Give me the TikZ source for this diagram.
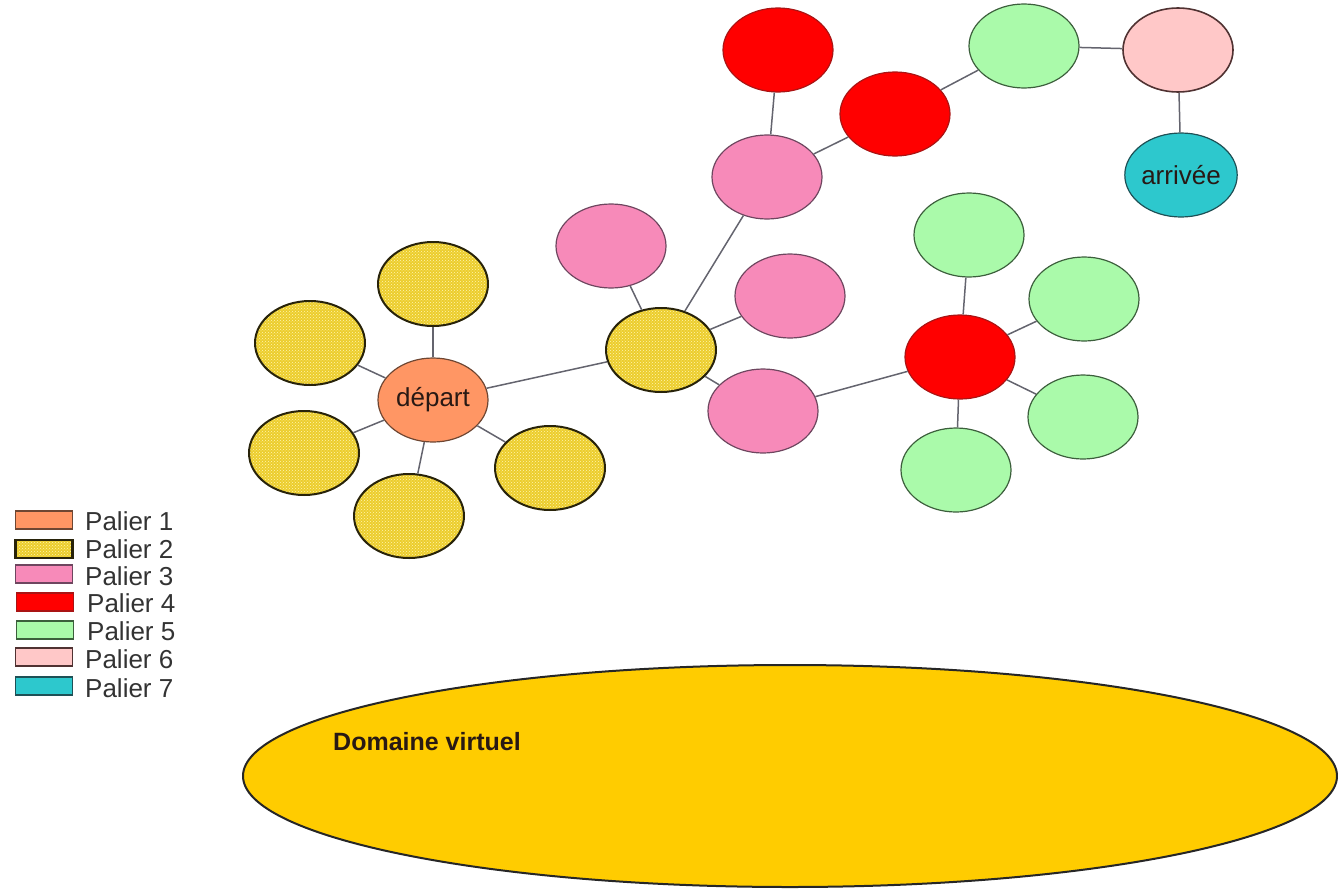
\documentclass[tikz,border=0pt]{standalone}
\usepackage{fontspec}
\setmainfont{Liberation Sans}
\usetikzlibrary{shapes.geometric,patterns}

% level colours
\definecolor{c1}{RGB}{255,150,100}  \definecolor{c1b}{RGB}{110,70,50}
\definecolor{c2}{RGB}{236,205,45}   \definecolor{c2d}{RGB}{255,246,175} \definecolor{c2b}{RGB}{40,35,10}
\definecolor{c3}{RGB}{247,138,185}  \definecolor{c3b}{RGB}{110,70,95}
\definecolor{c4}{RGB}{255,0,0}      \definecolor{c4b}{RGB}{170,20,20}
\definecolor{c5}{RGB}{170,250,170}  \definecolor{c5b}{RGB}{60,95,60}
\definecolor{c6}{RGB}{255,200,200}  \definecolor{c6b}{RGB}{80,50,50}
\definecolor{c7}{RGB}{45,200,205}   \definecolor{c7b}{RGB}{30,80,85}
\definecolor{dom}{RGB}{255,204,0}
\definecolor{edgec}{RGB}{100,100,110}
\definecolor{txt}{RGB}{40,25,20}

\tikzset{
  lvl/.style={ellipse, minimum width=110pt, minimum height=84pt, inner sep=0pt,
              line width=1.2pt, font=\fontsize{26}{28}\selectfont, text=txt},
  pone/.style={lvl, fill=c1, draw=c1b},
  ptwo/.style={lvl, preaction={fill=c2}, pattern=crosshatch dots, pattern color=c2d,
               draw=c2b, line width=2pt},
  pthree/.style={lvl, fill=c3, draw=c3b},
  pfour/.style={lvl, fill=c4, draw=c4b},
  pfive/.style={lvl, fill=c5, draw=c5b},
  psix/.style={lvl, fill=c6, draw=c6b, line width=1.6pt},
  pseven/.style={lvl, fill=c7, draw=c7b},
  link/.style={draw=edgec, line width=1.5pt},
  swatch/.style={rectangle, minimum width=57pt, minimum height=18pt, inner sep=0pt, line width=1.7pt},
  legtxt/.style={anchor=west, inner sep=0pt, font=\fontsize{26}{28}\selectfont, text=black!80}
}

\begin{document}
\begin{tikzpicture}[x=1pt, y=-1pt]
\useasboundingbox (0,0) rectangle (1338,889);

% virtual domain
\node[ellipse, minimum width=1094pt, minimum height=222pt, fill=dom, draw=black!85,
      line width=2pt] (domaine) at (790,776) {};
\node[anchor=west, inner sep=0pt, font=\bfseries\fontsize{25}{27}\selectfont, text=txt]
      (domtxt) at (333,742) {Domaine virtuel};

% level 1 and its neighbours
\node[pone] (dep) at (433,400) {départ};
\node[ptwo] (ya) at (433,284) {};
\node[ptwo] (yb) at (310,343) {};
\node[ptwo] (yc) at (304,453) {};
\node[ptwo] (yd) at (409,516) {};
\node[ptwo] (ye) at (550,468) {};
\node[ptwo] (hub) at (661,350) {};

% level 3
\node[pthree] (pa) at (611,246) {};
\node[pthree] (pb) at (790,296) {};
\node[pthree] (pc) at (763,411) {};
\node[pthree] (pd) at (767,177) {};

% level 4
\node[pfour] (ra) at (778,50) {};
\node[pfour] (rb) at (895,114) {};
\node[pfour] (rc) at (960,357) {};

% level 5
\node[pfive] (ga) at (1024,46) {};
\node[pfive] (gb) at (969,235) {};
\node[pfive] (gc) at (1084,299) {};
\node[pfive] (gd) at (1083,417) {};
\node[pfive] (ge) at (956,470) {};

% levels 6 and 7
\node[psix] (pl) at (1178,50) {};
\node[pseven] (ar) at (1181,175) {arrivée};

% links
\draw[link] (dep) -- (ya);
\draw[link] (dep) -- (yb);
\draw[link] (dep) -- (yc);
\draw[link] (dep) -- (yd);
\draw[link] (dep) -- (ye);
\draw[link] (dep) -- (hub);
\draw[link] (hub) -- (pa);
\draw[link] (hub) -- (pd);
\draw[link] (hub) -- (pb);
\draw[link] (hub) -- (pc);
\draw[link] (pc) -- (rc);
\draw[link] (rc) -- (gb);
\draw[link] (rc) -- (gc);
\draw[link] (rc) -- (gd);
\draw[link] (rc) -- (ge);
\draw[link] (pd) -- (ra);
\draw[link] (pd) -- (rb);
\draw[link] (rb) -- (ga);
\draw[link] (ga) -- (pl);
\draw[link] (pl) -- (ar);

% legend
\node[swatch, fill=c1, draw=c1b] (s1) at (44,520) {};
\node[swatch, preaction={fill=c2}, pattern=crosshatch dots, pattern color=c2d, draw=c2b, line width=2.2pt] (s2) at (44,549) {};
\node[swatch, fill=c3, draw=c3b] (s3) at (44,574) {};
\node[swatch, fill=c4, draw=c4b] (s4) at (45,602) {};
\node[swatch, fill=c5, draw=c5b] (s5) at (45,630) {};
\node[swatch, fill=c6, draw=c6b] (s6) at (44,657) {};
\node[swatch, fill=c7, draw=c7b] (s7) at (44,686) {};
\node[legtxt] (l1) at (85,521) {Palier 1};
\node[legtxt] (l2) at (85,549) {Palier 2};
\node[legtxt] (l3) at (85,576) {Palier 3};
\node[legtxt] (l4) at (87,603) {Palier 4};
\node[legtxt] (l5) at (87,631) {Palier 5};
\node[legtxt] (l6) at (85,659) {Palier 6};
\node[legtxt] (l7) at (85,688) {Palier 7};
\end{tikzpicture}
\end{document}
